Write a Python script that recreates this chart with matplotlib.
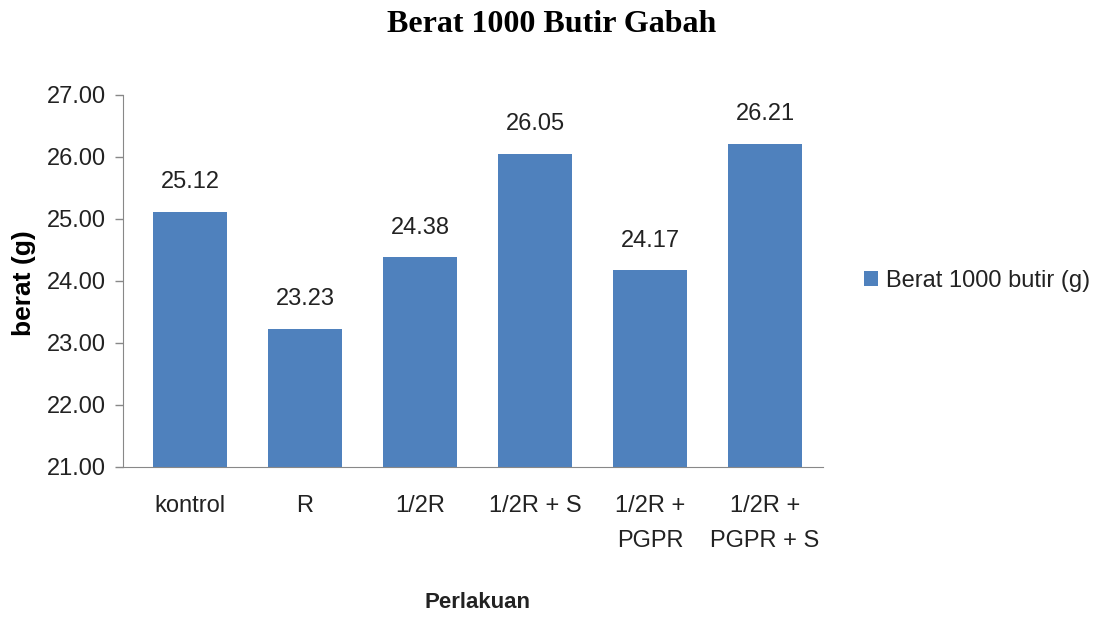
import matplotlib
matplotlib.use('Agg')  # headless
import matplotlib.pyplot as plt

categories = ["kontrol", "R", "1/2R", "1/2R + S", "1/2R +\nPGPR", "1/2R +\nPGPR + S"]
berat = [25.12, 23.23, 24.38, 26.05, 24.17, 26.21]
yticks = [21, 22, 23, 24, 25, 26, 27]

plt.rcParams['font.family'] = ['Liberation Sans', 'DejaVu Sans']
txt = "#222222"

fig = plt.figure(figsize=(11.04, 6.19), dpi=100)
ax = fig.add_axes([0.1114, 0.2456, 0.634, 0.601])

xs = range(len(categories))
ax.bar(xs, berat, width=0.65, color="#4F81BD", label="Berat 1000 butir (g)")
for x, v in zip(xs, berat):
    ax.text(x, v + 0.3, f"{v:.2f}", ha="center", va="bottom", fontsize=17, color=txt)

ax.set_ylim(21, 27)
ax.set_xlim(-0.583, 5.504)
ax.set_yticks(yticks)
ax.set_yticklabels([f"{t:.2f}" for t in yticks], fontsize=17, color=txt)
ax.set_xticks(list(xs))
ax.set_xticklabels(categories, fontsize=17, color=txt, linespacing=1.75)
ax.tick_params(axis="x", length=0, pad=20)
ax.tick_params(axis="y", length=6, width=1, color="#888888", pad=6, direction="out")

for s in ["top", "right"]:
    ax.spines[s].set_visible(False)
for s in ["left", "bottom"]:
    ax.spines[s].set_color("#888888")

fig.text(24 / 1104, 1 - 283 / 619, "berat (g)", rotation=90, ha="center", va="center",
         fontsize=19, fontweight="bold", color="black")
fig.text(477 / 1104, 1 - 603 / 619, "Perlakuan", ha="center", va="center",
         fontsize=16, fontweight="bold", color=txt)

fig.text(0.5, 1 - 24 / 619, "Berat 1000 Butir Gabah", ha="center", va="center",
         fontsize=23, fontweight="bold", family="Liberation Serif")

ax.legend(loc="center left", bbox_to_anchor=(1.045, 0.5), frameon=False,
          fontsize=17, handlelength=0.6, handleheight=0.6, handletextpad=0.35,
          borderaxespad=0, labelcolor=txt)

fig.savefig("out.png", dpi=100)
plt.close(fig)
